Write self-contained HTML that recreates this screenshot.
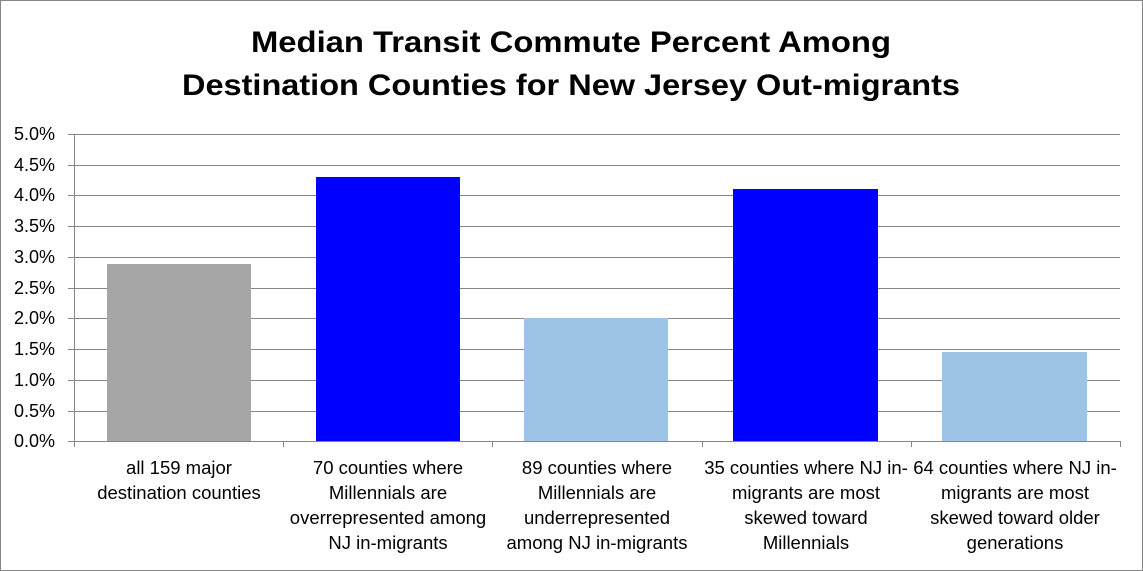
<!DOCTYPE html>
<html><head><style>
body{margin:0;background:#fff;}
svg{display:block;font-family:"Liberation Sans",Arial,sans-serif;}
</style></head><body>
<svg width="1143" height="571" viewBox="0 0 1143 571">
<rect x="0.5" y="0.5" width="1142" height="570" fill="#fff" stroke="#868686"/>
<text x="571" y="52" text-anchor="middle" font-size="30" font-weight="bold" fill="#000" textLength="640" lengthAdjust="spacingAndGlyphs">Median Transit Commute Percent Among</text>
<text x="571" y="95" text-anchor="middle" font-size="30" font-weight="bold" fill="#000" textLength="778" lengthAdjust="spacingAndGlyphs">Destination Counties for New Jersey Out-migrants</text>
<g stroke="#868686" stroke-width="1">
<line x1="68" y1="134.5" x2="1120" y2="134.5"/>
<line x1="68" y1="165.5" x2="1120" y2="165.5"/>
<line x1="68" y1="195.5" x2="1120" y2="195.5"/>
<line x1="68" y1="226.5" x2="1120" y2="226.5"/>
<line x1="68" y1="257.5" x2="1120" y2="257.5"/>
<line x1="68" y1="288.5" x2="1120" y2="288.5"/>
<line x1="68" y1="318.5" x2="1120" y2="318.5"/>
<line x1="68" y1="349.5" x2="1120" y2="349.5"/>
<line x1="68" y1="380.5" x2="1120" y2="380.5"/>
<line x1="68" y1="411.5" x2="1120" y2="411.5"/>
<line x1="74.5" y1="134" x2="74.5" y2="442"/>
</g>
<rect x="107" y="264" width="144" height="177" fill="#a6a6a6"/>
<rect x="316" y="177" width="144" height="264" fill="#0000ff"/>
<rect x="524" y="318" width="144" height="123" fill="#9dc3e6"/>
<rect x="733" y="189" width="145" height="252" fill="#0000ff"/>
<rect x="942" y="352" width="145" height="89" fill="#9dc3e6"/>
<g stroke="#868686" stroke-width="1">
<line x1="68" y1="441.5" x2="1120" y2="441.5"/>
<line x1="74.5" y1="441" x2="74.5" y2="447"/>
<line x1="283.5" y1="441" x2="283.5" y2="447"/>
<line x1="492.5" y1="441" x2="492.5" y2="447"/>
<line x1="702.5" y1="441" x2="702.5" y2="447"/>
<line x1="911.5" y1="441" x2="911.5" y2="447"/>
<line x1="1120.5" y1="441" x2="1120.5" y2="447"/>
</g>
<g font-size="18" fill="#000" text-anchor="end">
<text x="55" y="140">5.0%</text><text x="55" y="171">4.5%</text><text x="55" y="201">4.0%</text>
<text x="55" y="232">3.5%</text><text x="55" y="263">3.0%</text><text x="55" y="294">2.5%</text>
<text x="55" y="324">2.0%</text><text x="55" y="355">1.5%</text><text x="55" y="386">1.0%</text>
<text x="55" y="417">0.5%</text><text x="55" y="447">0.0%</text>
</g>
<g font-size="18.5" fill="#000" text-anchor="middle">
<text x="179" y="474">all 159 major</text><text x="179" y="499">destination counties</text>
<text x="388" y="474">70 counties where</text><text x="388" y="499">Millennials are</text><text x="388" y="524">overrepresented among</text><text x="388" y="549">NJ in-migrants</text>
<text x="597" y="474">89 counties where</text><text x="597" y="499">Millennials are</text><text x="597" y="524">underrepresented</text><text x="597" y="549">among NJ in-migrants</text>
<text x="806" y="474">35 counties where NJ in-</text><text x="806" y="499">migrants are most</text><text x="806" y="524">skewed toward</text><text x="806" y="549">Millennials</text>
<text x="1015" y="474">64 counties where NJ in-</text><text x="1015" y="499">migrants are most</text><text x="1015" y="524">skewed toward older</text><text x="1015" y="549">generations</text>
</g>
</svg>
</body></html>
